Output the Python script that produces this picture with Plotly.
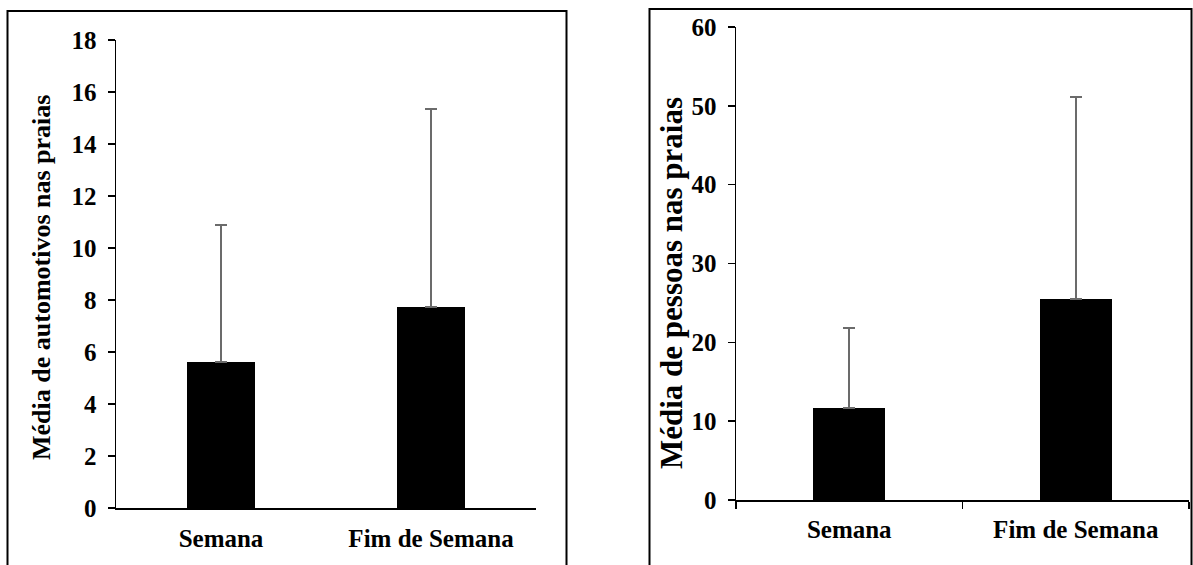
import plotly.graph_objects as go

categories = ["Semana", "Fim de Semana"]
autos_mean = [5.6, 7.75]
autos_err = [5.3, 7.6]
pessoas_mean = [11.7, 25.5]
pessoas_err = [10.1, 25.6]

left_title = "Média de automotivos nas praias"
right_title = "Média de pessoas nas praias"
left_ticks = [0, 2, 4, 6, 8, 10, 12, 14, 16, 18]
right_ticks = [0, 10, 20, 30, 40, 50, 60]

W, H = 1193, 565
FONT = dict(family="Liberation Serif", size=25, color="black", weight="bold")
TFONT_L = dict(family="Liberation Serif", size=26, color="black", weight="bold")
TFONT_R = dict(family="Liberation Serif", size=31, color="black", weight="bold")

def px(x):
    return x / W

def py(y):
    return (H - y) / H

fig = go.Figure()
err_style = dict(type="data", symmetric=False, color="#6b6b6b", thickness=2, width=6)

fig.add_trace(go.Bar(x=categories, y=autos_mean, width=0.32, marker=dict(color="black", line=dict(width=0)),
                     error_y=dict(array=autos_err, arrayminus=[0, 0], **err_style),
                     xaxis="x", yaxis="y", showlegend=False))
fig.add_trace(go.Bar(x=categories, y=pessoas_mean, width=0.32, marker=dict(color="black", line=dict(width=0)),
                     error_y=dict(array=pessoas_err, arrayminus=[0, 0], **err_style),
                     xaxis="x2", yaxis="y2", showlegend=False))

axis_common = dict(showgrid=False, zeroline=False, showline=True, linecolor="black", linewidth=1.5,
                   tickfont=FONT, fixedrange=True, automargin=False)

fig.update_layout(
    width=W, height=H,
    margin=dict(l=0, r=0, t=0, b=0, pad=0, autoexpand=False),
    paper_bgcolor="white", plot_bgcolor="white",
    bargap=0,
    xaxis=dict(domain=[px(116), px(536)], anchor="y", range=[-0.5, 1.5], type="category",
               ticks="", ticklabelstandoff=7, **axis_common),
    yaxis=dict(domain=[py(508), py(40)], anchor="x", range=[0, 18], tickvals=left_ticks,
               ticks="outside", ticklen=7, tickwidth=1.5, tickcolor="black", ticklabelstandoff=6,
               **axis_common),
    xaxis2=dict(domain=[px(736), px(1189)], anchor="y2", range=[-0.5, 1.5], type="category",
                ticks="outside", tickson="boundaries", ticklen=7, tickwidth=1.5, tickcolor="black",
                ticklabelstandoff=6, **axis_common),
    yaxis2=dict(domain=[py(500), py(27)], anchor="x2", range=[0, 60], tickvals=right_ticks,
                ticks="outside", ticklen=7, tickwidth=1.5, tickcolor="black", ticklabelstandoff=6,
                **axis_common),
    shapes=[
        dict(type="rect", xref="paper", yref="paper", x0=px(7.5), x1=px(566.5), y0=py(580), y1=py(11),
             line=dict(color="black", width=2), fillcolor="rgba(0,0,0,0)", layer="below"),
        dict(type="rect", xref="paper", yref="paper", x0=px(649.5), x1=px(1191.5), y0=py(580), y1=py(9),
             line=dict(color="black", width=2), fillcolor="rgba(0,0,0,0)", layer="below"),
    ],
    annotations=[
        dict(text=left_title, xref="paper", yref="paper", x=px(41), y=py(278), textangle=-90,
             showarrow=False, font=TFONT_L, xanchor="center", yanchor="middle"),
        dict(text=right_title, xref="paper", yref="paper", x=px(671), y=py(283), textangle=-90,
             showarrow=False, font=TFONT_R, xanchor="center", yanchor="middle"),
    ],
)

fig.write_html("out.html", config={"displayModeBar": False, "staticPlot": True},
               post_script="document.body.style.margin='0px';document.body.style.overflow='hidden';")
